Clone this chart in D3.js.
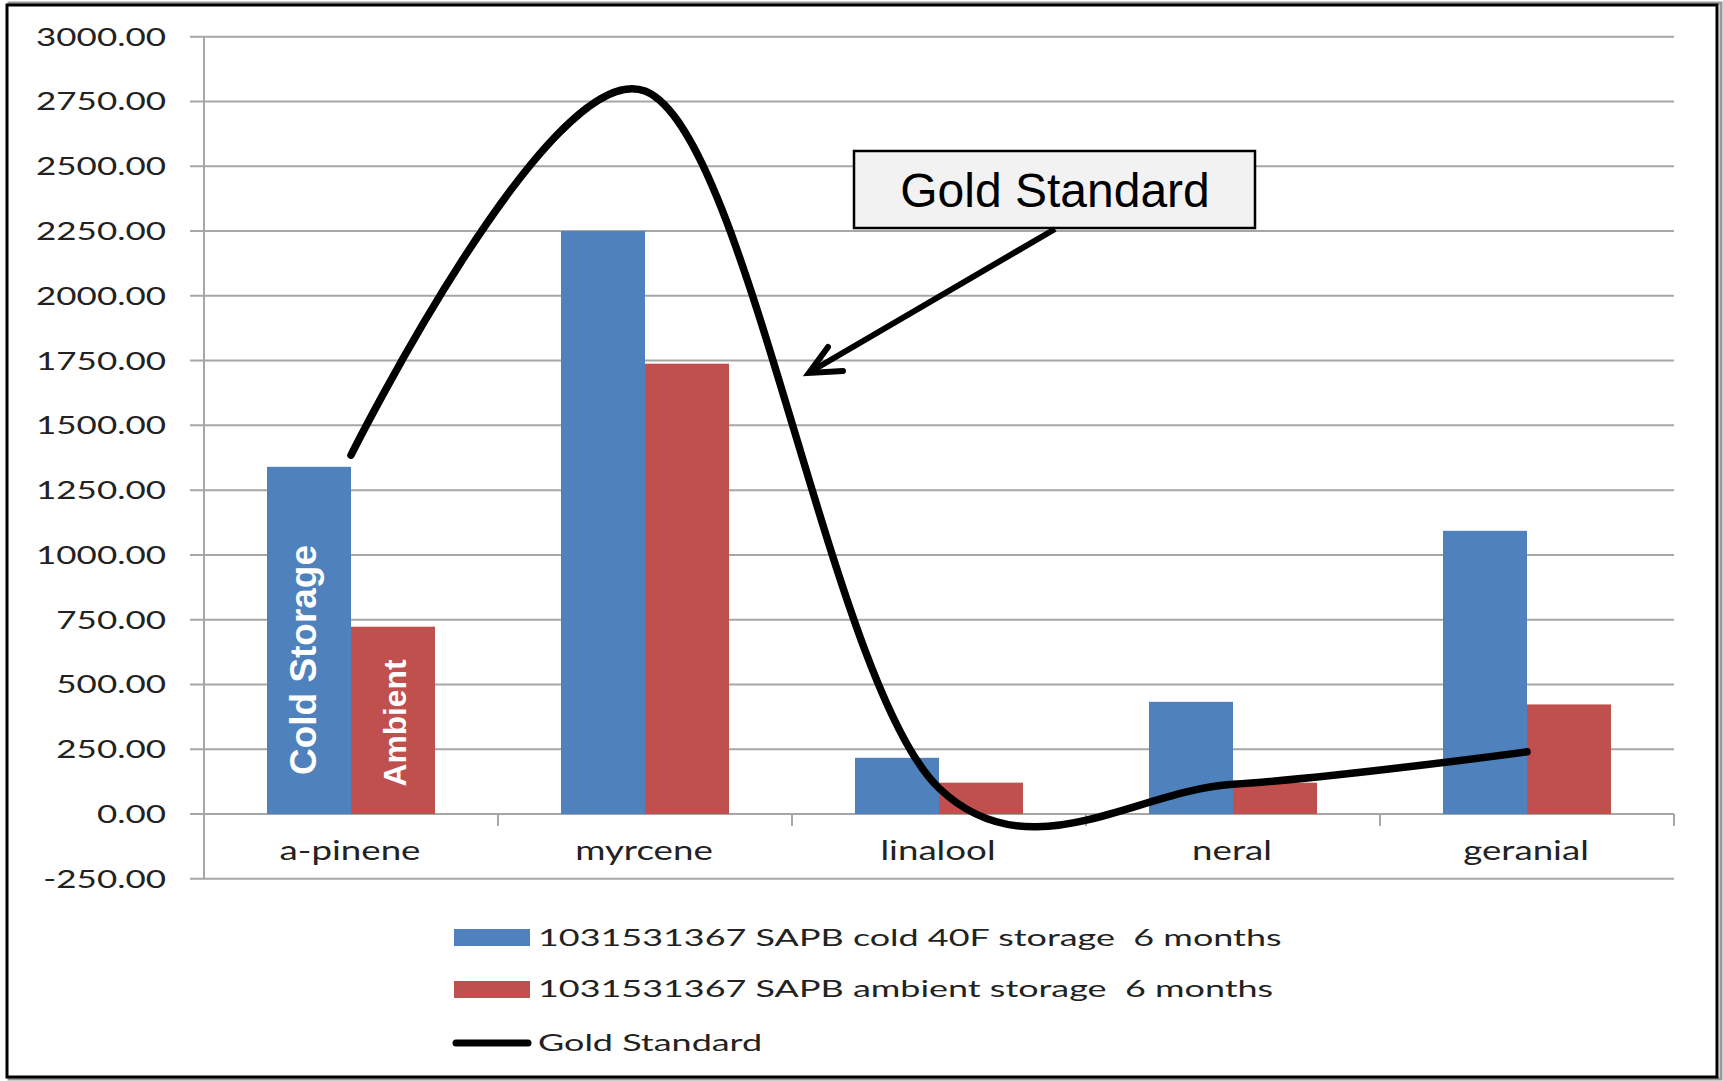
<!DOCTYPE html>
<html>
<head>
<meta charset="utf-8">
<script src="https://cdn.jsdelivr.net/npm/d3@7"></script>
<style>
  html, body { margin: 0; padding: 0; background: #fff; }
  svg { display: block; }
  text { white-space: pre; }
</style>
</head>
<body>
<svg id="chart" width="1723" height="1081"></svg>
<script>
// ---- data ----
const categories = ["a-pinene", "myrcene", "linalool", "neral", "geranial"];
const coldStorage = [1340, 2250, 217, 433, 1093];
const ambientStorage = [723, 1738, 121, 121, 423];
const goldStandard = [1385, 2790, 100, 115, 240];
const yTicks = [-250, 0, 250, 500, 750, 1000, 1250, 1500, 1750, 2000, 2250, 2500, 2750, 3000];
const seriesNames = [
  "1031531367 SAPB cold 40F storage  6 months",
  "1031531367 SAPB ambient storage  6 months",
  "Gold Standard"
];
const colors = { cold: "#4F81BD", ambient: "#C0504D", gold: "#000000", grid: "#a6a6a6" };

const svg = d3.select("#chart");

// outer frame
svg.append("rect").attr("x", 9).attr("y", 3).attr("width", 1712).attr("height", 1076)
  .attr("fill", "none").attr("stroke", "#9a9a9a").attr("stroke-width", 3);
svg.append("rect").attr("x", 7).attr("y", 5).attr("width", 1710).attr("height", 1072)
  .attr("fill", "#fff").attr("stroke", "#000").attr("stroke-width", 3);

// scales
const y = d3.scaleLinear().domain([-250, 3000]).range([878.8, 36.7]);
const x0 = d3.scaleBand().domain(categories).range([204, 1674])
  .paddingInner(126 / 294).paddingOuter(63 / 294);
const x1 = d3.scaleBand().domain(["cold", "ambient"]).range([0, x0.bandwidth()]);
const xc = d => x0(d) + x0.bandwidth() / 2;

// gridlines + y ticks
const g = svg.append("g");
g.selectAll("line.grid").data(yTicks).join("line")
  .attr("class", "grid")
  .attr("x1", 190).attr("x2", 1674)
  .attr("y1", d => y(d)).attr("y2", d => y(d))
  .attr("stroke", colors.grid).attr("stroke-width", 2);

// y axis line
g.append("line").attr("x1", 204).attr("x2", 204).attr("y1", y(3000)).attr("y2", y(-250))
  .attr("stroke", colors.grid).attr("stroke-width", 2);

// category tick marks on the zero line
const boundaries = d3.range(categories.length + 1).map(i => 204 + x0.step() * i);
g.selectAll("line.ctick").data(boundaries).join("line")
  .attr("class", "ctick")
  .attr("x1", d => d).attr("x2", d => d)
  .attr("y1", y(0)).attr("y2", y(0) + 12)
  .attr("stroke", colors.grid).attr("stroke-width", 2);

// y tick labels
const fmt = d => d3.format(".2f")(d).replace("\u2212", "-");
const yl = g.selectAll("text.ylab").data(yTicks).join("text")
  .attr("class", "ylab")
  .attr("font-family", "Lato, 'DejaVu Sans', sans-serif")
  .attr("font-size", 25)
  .attr("fill", "#222")
  .attr("text-anchor", "end")
  .text(d => fmt(d));
let refW = yl.filter(d => d === 3000).node().getComputedTextLength();
let sxY = 130 / refW;
yl.attr("transform", d => `translate(166,${y(d) + 9}) scale(${sxY},1)`);

// bars
const barG = svg.append("g");
const rows = categories.map((c, i) => ({ c, cold: coldStorage[i], ambient: ambientStorage[i] }));
rows.forEach(r => {
  [["cold", colors.cold], ["ambient", colors.ambient]].forEach(([k, col]) => {
    barG.append("rect")
      .attr("x", x0(r.c) + x1(k))
      .attr("y", y(r[k]))
      .attr("width", x1.bandwidth())
      .attr("height", y(0) - y(r[k]))
      .attr("fill", col);
  });
});

// x labels
const xl = svg.append("g").selectAll("text").data(categories).join("text")
  .attr("font-family", "Lato, 'DejaVu Sans', sans-serif")
  .attr("font-size", 26)
  .attr("fill", "#222")
  .attr("text-anchor", "middle")
  .text(d => d);
refW = xl.filter(d => d === "a-pinene").node().getComputedTextLength();
const sxX = 141 / refW;
xl.attr("transform", d => `translate(${xc(d) - 1},860) scale(${sxX},1)`);

// rotated bar labels
svg.append("text")
  .attr("transform", `translate(316,660) rotate(-90)`)
  .attr("text-anchor", "middle")
  .attr("font-family", "'Liberation Sans', Arial, sans-serif")
  .attr("font-weight", "bold").attr("font-size", 36).attr("fill", "#fff")
  .attr("textLength", 230).attr("lengthAdjust", "spacingAndGlyphs")
  .text("Cold Storage");
svg.append("text")
  .attr("transform", `translate(406,723) rotate(-90)`)
  .attr("text-anchor", "middle")
  .attr("font-family", "'Liberation Sans', Arial, sans-serif")
  .attr("font-weight", "bold").attr("font-size", 32).attr("fill", "#fff")
  .attr("textLength", 127).attr("lengthAdjust", "spacingAndGlyphs")
  .text("Ambient");

// gold standard line
const line = d3.line()
  .x((d, i) => xc(categories[i]))
  .y(d => y(d))
  .curve(d3.curveCatmullRom.alpha(0.2));
svg.append("path").datum(goldStandard)
  .attr("d", line)
  .attr("fill", "none").attr("stroke", colors.gold)
  .attr("stroke-width", 7.5).attr("stroke-linecap", "round").attr("stroke-linejoin", "round");

// callout
svg.append("rect").attr("x", 854).attr("y", 151).attr("width", 401).attr("height", 77)
  .attr("fill", "#f2f2f2").attr("stroke", "#000").attr("stroke-width", 2.5);
svg.append("text").attr("x", 1055).attr("y", 207).attr("text-anchor", "middle")
  .attr("font-family", "'Liberation Sans', Arial, sans-serif").attr("font-size", 48)
  .attr("fill", "#000").text("Gold Standard");
svg.append("line").attr("x1", 1055).attr("y1", 229).attr("x2", 810).attr("y2", 372)
  .attr("stroke", "#000").attr("stroke-width", 6);
svg.append("path").attr("d", "M828,347 L809,373 L843,371")
  .attr("fill", "none").attr("stroke", "#000").attr("stroke-width", 6)
  .attr("stroke-linecap", "round").attr("stroke-linejoin", "miter");

// legend
const leg = svg.append("g");
const legY = [946, 997, 1050.5];
leg.append("rect").attr("x", 454).attr("y", 929).attr("width", 76).attr("height", 17).attr("fill", colors.cold);
leg.append("rect").attr("x", 454).attr("y", 981).attr("width", 76).attr("height", 17).attr("fill", colors.ambient);
leg.append("line").attr("x1", 456).attr("x2", 528).attr("y1", 1043).attr("y2", 1043)
  .attr("stroke", colors.gold).attr("stroke-width", 7).attr("stroke-linecap", "round");
const lt = leg.selectAll("text").data(seriesNames).join("text")
  .attr("font-family", "Lato, 'DejaVu Sans', sans-serif")
  .attr("font-size", 23)
  .attr("fill", "#222")
  .attr("xml:space", "preserve")
  .text(d => d);
refW = lt.filter((d, i) => i === 0).node().getComputedTextLength();
const sxL = 744 / refW;
lt.attr("transform", (d, i) => `translate(538,${legY[i]}) scale(${sxL},1)`);
</script>
</body>
</html>
